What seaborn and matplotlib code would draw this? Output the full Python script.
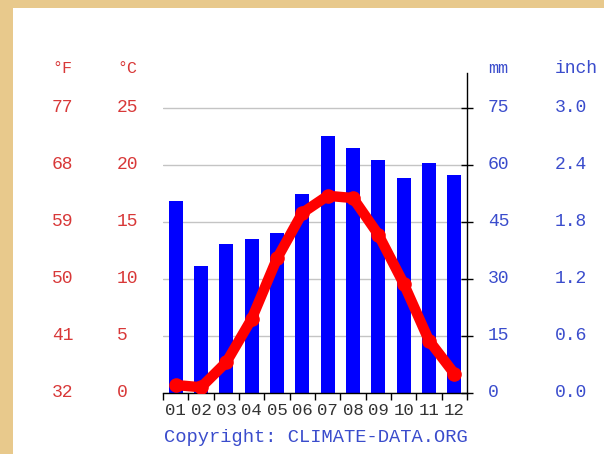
import numpy as np
import pandas as pd
import seaborn as sns
import matplotlib.pyplot as plt
import matplotlib.patches as patches
from matplotlib.transforms import blended_transform_factory

months = ['01', '02', '03', '04', '05', '06', '07', '08', '09', '10', '11', '12']
precip_mm = [50.5, 33.5, 39.1, 40.4, 42.2, 52.3, 67.5, 64.4, 61.3, 56.5, 60.4, 57.4]
temp_c = [0.7, 0.5, 2.7, 6.5, 11.8, 15.8, 17.3, 17.1, 13.9, 9.6, 4.6, 1.7]

celsius_ticks = [0, 5, 10, 15, 20, 25]
fahrenheit_labels = ['32', '41', '50', '59', '68', '77']
mm_ticks = [0, 15, 30, 45, 60, 75]
inch_labels = ['0.0', '0.6', '1.2', '1.8', '2.4', '3.0']

red_text = '#d83838'
blue_text = '#3a4ccc'

sns.set_theme(style='white')
plt.rcParams['font.family'] = ['Liberation Mono', 'DejaVu Sans Mono']

fig = plt.figure(figsize=(6.04, 4.54), dpi=100)
fig.patch.set_facecolor('#e8c98c')
# white card on the golden background
fig.patches.append(patches.Rectangle((0.0215, 0), 0.9785, 0.9824, transform=fig.transFigure,
                                     facecolor='white', edgecolor='none', zorder=-10))

ax = fig.add_axes([0.2699, 0.1344, 0.5033, 0.7048])
ax.patch.set_alpha(0)

df = pd.DataFrame({'month': months, 'precip': precip_mm, 'temp': temp_c})
df['pos'] = np.arange(len(months))

sns.barplot(data=df, x='month', y='precip', color='#0000ff', saturation=1,
            width=0.56, linewidth=0, ax=ax, zorder=2)
ax.set_xlim(-0.5, 11.5)
ax.set_ylim(0, 84.2)
ax.set_xlabel('')
ax.set_ylabel('')

# temperature on a twin axis
ax2 = ax.twinx()
sns.lineplot(data=df, x='pos', y='temp', ax=ax2, color='#ff0000', lw=7.5,
             marker='o', markersize=10.5, markeredgewidth=0,
             solid_capstyle='round', solid_joinstyle='round')
ax2.set_ylim(0, 28.07)
ax2.set_ylabel('')
ax2.set_yticks([])
for s in ax2.spines.values():
    s.set_visible(False)

# grid + axes styling
ax.set_yticks(mm_ticks)
ax.yaxis.grid(True, color='#c4c4c4', lw=1)
ax.set_axisbelow(True)
ax.yaxis.tick_right()
ax.tick_params(axis='y', which='major', right=True, left=False, direction='inout',
               length=8, width=1, color='black', labelright=False, labelleft=False)
ax.set_xticks(np.arange(-0.5, 12, 1), minor=True)
ax.tick_params(axis='x', which='major', length=0, pad=7, labelsize=12.5, labelcolor='#333333')
ax.tick_params(axis='x', which='minor', bottom=True, direction='out', length=5, width=1, color='black')
for side in ['left', 'top']:
    ax.spines[side].set_visible(False)
for side in ['right', 'bottom']:
    ax.spines[side].set_visible(True)
    ax.spines[side].set_color('black')
    ax.spines[side].set_linewidth(1)

# column labels
trans_t = blended_transform_factory(ax.transAxes, ax2.transData)
trans_p = blended_transform_factory(ax.transAxes, ax.transData)
for c, f in zip(celsius_ticks, fahrenheit_labels):
    ax.text(-0.365, c, f, transform=trans_t, color=red_text, fontsize=13, va='center', ha='left')
    ax.text(-0.151, c, str(c), transform=trans_t, color=red_text, fontsize=13, va='center', ha='left')
for m, i in zip(mm_ticks, inch_labels):
    ax.text(1.069, m, str(m), transform=trans_p, color=blue_text, fontsize=13, va='center', ha='left')
    ax.text(1.289, m, i, transform=trans_p, color=blue_text, fontsize=13, va='center', ha='left')

ax.text(-0.365, 1.0156, '°F', transform=ax.transAxes, color=red_text, fontsize=12, va='center', ha='left')
ax.text(-0.151, 1.0156, '°C', transform=ax.transAxes, color=red_text, fontsize=12, va='center', ha='left')
ax.text(1.069, 1.0156, 'mm', transform=ax.transAxes, color=blue_text, fontsize=12, va='center', ha='left')
ax.text(1.289, 1.0156, 'inch', transform=ax.transAxes, color=blue_text, fontsize=13, va='center', ha='left')

ax.text(0.502, -0.1406, 'Copyright: CLIMATE-DATA.ORG', transform=ax.transAxes,
        color=blue_text, fontsize=13.5, va='center', ha='center')

plt.savefig('out.png', dpi=100, facecolor=fig.get_facecolor())
plt.close()
